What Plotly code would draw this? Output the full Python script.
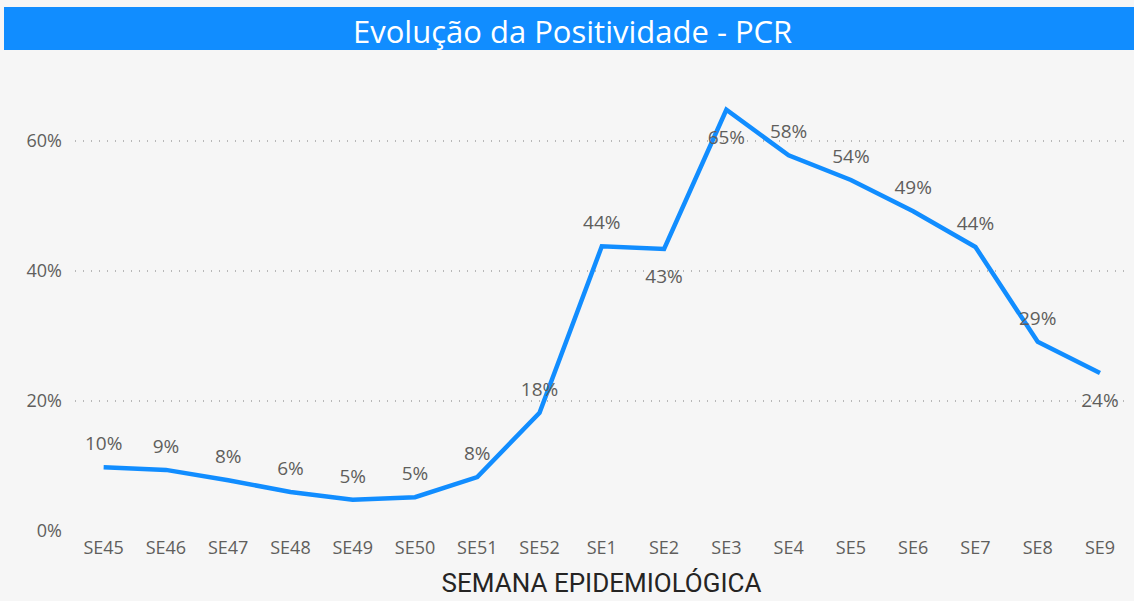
import plotly.graph_objects as go

weeks = ["SE45", "SE46", "SE47", "SE48", "SE49", "SE50", "SE51", "SE52",
         "SE1", "SE2", "SE3", "SE4", "SE5", "SE6", "SE7", "SE8", "SE9"]
positivity = [0.098, 0.094, 0.078, 0.060, 0.048, 0.052, 0.083, 0.182,
              0.438, 0.434, 0.648, 0.578, 0.540, 0.492, 0.437, 0.291, 0.243]
label_below = [False] * 9 + [True, True] + [False] * 5 + [True]
y_ticks = [0, 0.2, 0.4, 0.6]

W, H = 1134, 601
ml, mr, mt, mb = 75, 6, 76, 70
pw = W - ml - mr
ph = H - mt - mb

def px_x(p):
    return (p - ml) / pw

def px_y(p):
    return (H - mb - p) / ph

fig = go.Figure()
fig.add_trace(go.Scatter(
    x=list(range(len(weeks))), y=positivity, mode="lines+markers+text",
    line=dict(color="#118DFF", width=4.5),
    marker=dict(size=[30 if b else 18 for b in label_below],
                color="rgba(0,0,0,0)", line=dict(width=0, color="rgba(0,0,0,0)")),
    text=[f"{round(v*100):.0f}%" for v in positivity],
    textposition=["bottom center" if b else "top center" for b in label_below],
    textfont=dict(family="Open Sans", size=19, color="#605E5C"),
    hoverinfo="skip", cliponaxis=False,
))

fig.add_shape(type="rect", xref="paper", yref="paper",
              x0=px_x(4), x1=px_x(1134), y0=px_y(50), y1=px_y(7),
              fillcolor="#118DFF", line_width=0, layer="above")
fig.add_annotation(xref="paper", yref="paper", x=px_x(572), y=px_y(31),
                   text="Evolução da Positividade - PCR", showarrow=False,
                   font=dict(family="Open Sans", size=31, color="white"),
                   xanchor="center", yanchor="middle")

fig.update_layout(
    width=W, height=H,
    margin=dict(l=ml, r=mr, t=mt, b=mb, autoexpand=False),
    paper_bgcolor="#f6f6f6", plot_bgcolor="rgba(0,0,0,0)",
    showlegend=False, hovermode=False,
    xaxis=dict(
        range=[-0.46, 16.45], tickvals=list(range(len(weeks))), ticktext=weeks,
        showgrid=False, zeroline=False, showline=False, automargin=False,
        tickfont=dict(family="Open Sans", size=18, color="#605E5C"),
        ticklabelstandoff=4,
        title=dict(text="SEMANA EPIDEMIOLÓGICA", standoff=15,
                   font=dict(family="Roboto", size=26, color="#252423")),
    ),
    yaxis=dict(
        range=[0, 0.70], tickvals=y_ticks, tickformat=".0%",
        showgrid=True, gridcolor="#b8b8b8", griddash="1px,7px", gridwidth=1.5,
        zeroline=False, showline=False, automargin=False,
        tickfont=dict(family="Open Sans", size=18, color="#605E5C"),
        ticklabelstandoff=12,
    ),
)

fig.write_html("out.html", config={"displayModeBar": False},
               post_script="document.body.style.margin='0';document.body.style.background='#f6f6f6';")
